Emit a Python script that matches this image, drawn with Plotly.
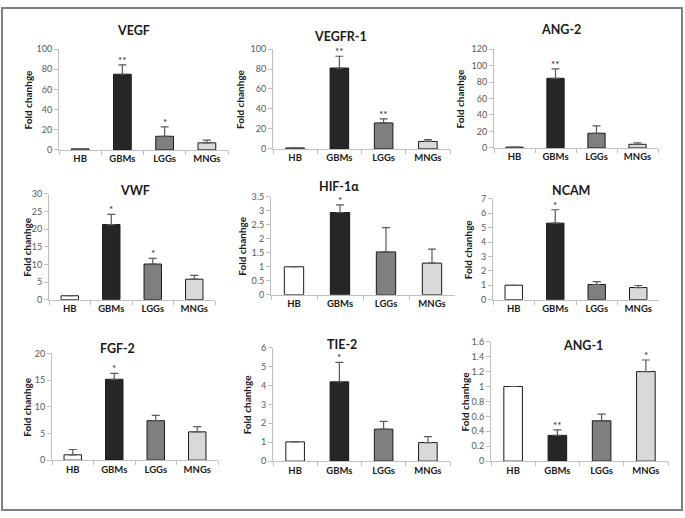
import plotly.graph_objects as go

W, H = 685, 518

groups = ['HB', 'GBMs', 'LGGs', 'MNGs']
bar_colors = ['#ffffff', '#262626', '#7f7f7f', '#d9d9d9']

# one list per marker: means, upper error, significance stars
vegf = [1.0, 75, 13.5, 7]
vegf_err = [0, 9.3, 9.3, 2.6]
vegf_sig = ['', '**', '*', '']

vegfr1 = [1.0, 81, 26, 7.5]
vegfr1_err = [0, 11.8, 4, 1.7]
vegfr1_sig = ['', '**', '**', '']

ang2 = [1.0, 84.5, 17.8, 4.4]
ang2_err = [0, 11.5, 9, 1.9]
ang2_sig = ['', '**', '', '']

vwf = [1.1, 21.3, 10.1, 5.8]
vwf_err = [0, 2.9, 1.6, 1.1]
vwf_sig = ['', '*', '*', '']

hif1a = [1.0, 2.94, 1.53, 1.13]
hif1a_err = [0, 0.27, 0.87, 0.5]
hif1a_sig = ['', '*', '', '']

ncam = [1.0, 5.31, 1.05, 0.84]
ncam_err = [0, 0.93, 0.2, 0.14]
ncam_sig = ['', '*', '', '']

fgf2 = [1.0, 15.15, 7.4, 5.3]
fgf2_err = [1.0, 1.1, 1.0, 1.0]
fgf2_sig = ['', '*', '', '']

tie2 = [1.02, 4.19, 1.69, 0.98]
tie2_err = [0, 1.03, 0.41, 0.31]
tie2_sig = ['', '*', '', '']

ang1 = [1.0, 0.345, 0.54, 1.2]
ang1_err = [0, 0.075, 0.09, 0.155]
ang1_sig = ['', '**', '', '*']

# name, values, err, stars, y max, y dtick, plot box in px (x0, x1, ytop, ybottom), title px, ytitle x px
panels = [
    ('VEGF', vegf, vegf_err, vegf_sig, 100, 20, (59, 228, 44, 147), (133, 25), 28),
    ('VEGFR-1', vegfr1, vegfr1_err, vegfr1_sig, 100, 20, (273, 450, 44, 146), (340, 31), 240),
    ('ANG-2', ang2, ang2_err, ang2_sig, 120, 20, (494, 658, 44, 145), (561, 24), 460),
    ('VWF', vwf, vwf_err, vwf_sig, 30, 5, (49, 215, 192, 300), (135, 188), 27),
    ('HIF-1α', hif1a, hif1a_err, hif1a_sig, 3.5, 0.5, (271, 455, 195, 295), (339, 184), 242),
    ('NCAM', ncam, ncam_err, ncam_sig, 7, 1, (493, 659, 197, 300), (571, 188), 468),
    ('FGF-2', fgf2, fgf2_err, fgf2_sig, 20, 5, (52, 218, 355, 464), (117, 350), 27),
    ('TIE-2', tie2, tie2_err, tie2_sig, 6, 1, (273, 450, 349, 465), (342, 346), 247),
    ('ANG-1', ang1, ang1_err, ang1_sig, 1.6, 0.2, (491, 668, 343, 465), (583, 347), 465),
]

FONT = 'Lato, Open Sans, sans-serif'

fig = go.Figure()
annotations = []
layout = {}

for i, (name, vals, err, sig, ymax, dtick, box, tpos, ytx) in enumerate(panels):
    n = '' if i == 0 else str(i + 1)
    x0, x1, yt, yb = box
    fig.add_trace(go.Bar(
        x=groups, y=vals, xaxis='x' + n, yaxis='y' + n, width=0.42,
        marker=dict(color=bar_colors, line=dict(color='#1a1a1a', width=1)),
        error_y=dict(type='data', symmetric=False, array=err, arrayminus=[0] * 4,
                     color='#595959', thickness=1.2, width=4),
        showlegend=False,
    ))
    layout['xaxis' + n] = dict(
        domain=[x0 / W, x1 / W], anchor='y' + n, showline=True, linecolor='#bfbfbf',
        ticks='outside', ticklen=4, tickcolor='#bfbfbf', tickson='boundaries',
        tickfont=dict(family=FONT, size=9.5, color='#1a1a1a', weight='bold'),
        range=[-0.5, 3.5], fixedrange=True,
    )
    layout['yaxis' + n] = dict(
        domain=[1 - yb / H, 1 - yt / H], anchor='x' + n, range=[0, ymax], dtick=dtick,
        showline=True, linecolor='#bfbfbf', ticks='outside', ticklen=4, tickcolor='#bfbfbf',
        showgrid=False, zeroline=False, tickfont=dict(family=FONT, size=9, color='#595959'),
    )
    annotations.append(dict(
        x=tpos[0] / W, y=1 - tpos[1] / H, xref='paper', yref='paper', text='<b>' + name + '</b>',
        xanchor='center', yanchor='middle',
        showarrow=False, font=dict(family=FONT, size=12.5, color='#1a1a1a'),
    ))
    annotations.append(dict(
        x=ytx / W, y=1 - (yt + yb) / 2 / H, xref='paper', yref='paper', text='<b>Fold chanhge</b>',
        xanchor='center', yanchor='middle',
        textangle=-90, showarrow=False, font=dict(family=FONT, size=10, color='#1a1a1a'),
    ))
    for g, v, e, s in zip(groups, vals, err, sig):
        if s:
            annotations.append(dict(
                x=g, y=v + e, xref='x' + n, yref='y' + n, text=s, showarrow=False,
                xanchor='center', yanchor='bottom', yshift=-3,
                font=dict(family=FONT, size=10, color='#262626'),
            ))

fig.update_layout(
    width=W, height=H, margin=dict(t=0, r=0, b=0, l=0),
    paper_bgcolor='white', plot_bgcolor='white', bargap=0.58,
    annotations=annotations,
    shapes=[dict(type='rect', xref='paper', yref='paper', x0=2 / W, x1=682 / W, y0=1 - 515 / H, y1=1 - 2 / H,
                 line=dict(color='#7f7f7f', width=2))],
    **layout,
)

# drop the default body margin so the figure fills the window exactly
fig.write_html('out.html', config={'displayModeBar': False},
               post_script="document.body.style.margin='0';document.body.style.overflow='hidden';")
